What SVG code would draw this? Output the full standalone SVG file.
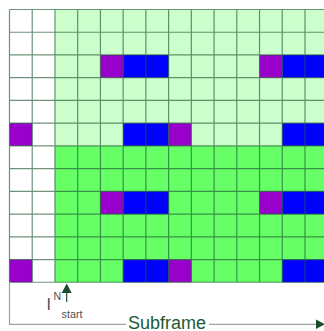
<svg xmlns="http://www.w3.org/2000/svg" width="324" height="331" viewBox="0 0 324 331">
<style>
.lg{fill:#ccffcc}
.g{fill:#66ff66}
.p{fill:#9900cc}
.b{fill:#0000ff}
.grid{fill:none;stroke:#1f5a33;stroke-opacity:0.65;stroke-width:1.2}
.ax{stroke:#a0a0a0;stroke-width:1.2;fill:none}
.ah{fill:#1a4d2e}
.lab{font-family:"Liberation Sans",Arial,sans-serif;fill:#505050}
.sub{font-family:"Liberation Sans",Arial,sans-serif;fill:#1e5a32;font-size:18px}
</style>
<rect width="324" height="331" fill="#ffffff"/>
<g id="cells">
<rect class="lg" x="54.96" y="9.5" width="272.76" height="136.38"/>
<rect class="g" x="54.96" y="145.88" width="272.76" height="136.38"/>
<rect class="p" x="100.42" y="54.96" width="22.73" height="22.73"/>
<rect class="b" x="123.15" y="54.96" width="45.46" height="22.73"/>
<rect class="p" x="259.53" y="54.96" width="22.73" height="22.73"/>
<rect class="b" x="282.26" y="54.96" width="45.46" height="22.73"/>
<rect class="p" x="9.5" y="123.15" width="22.73" height="22.73"/>
<rect class="b" x="123.15" y="123.15" width="45.46" height="22.73"/>
<rect class="p" x="168.61" y="123.15" width="22.73" height="22.73"/>
<rect class="b" x="282.26" y="123.15" width="45.46" height="22.73"/>
<rect class="p" x="100.42" y="191.34" width="22.73" height="22.73"/>
<rect class="b" x="123.15" y="191.34" width="45.46" height="22.73"/>
<rect class="p" x="259.53" y="191.34" width="22.73" height="22.73"/>
<rect class="b" x="282.26" y="191.34" width="45.46" height="22.73"/>
<rect class="p" x="9.5" y="259.53" width="22.73" height="22.73"/>
<rect class="b" x="123.15" y="259.53" width="45.46" height="22.73"/>
<rect class="p" x="168.61" y="259.53" width="22.73" height="22.73"/>
<rect class="b" x="282.26" y="259.53" width="45.46" height="22.73"/>
</g>
<g id="gridlines">
<path class="grid" d="M9.5 9.5V282.26M32.23 9.5V282.26M54.96 9.5V282.26M77.69 9.5V282.26M100.42 9.5V282.26M123.15 9.5V282.26M145.88 9.5V282.26M168.61 9.5V282.26M191.34 9.5V282.26M214.07 9.5V282.26M236.8 9.5V282.26M259.53 9.5V282.26M282.26 9.5V282.26M304.99 9.5V282.26
M9.5 9.5H328M9.5 32.23H328M9.5 54.96H328M9.5 77.69H328M9.5 100.42H328M9.5 123.15H328M9.5 145.88H328M9.5 168.61H328M9.5 191.34H328M9.5 214.07H328M9.5 236.8H328M9.5 259.53H328M9.5 282.26H328"/>
</g>
<g id="connectors">
<line class="ax" x1="9.5" y1="282.26" x2="9.5" y2="325"/>
<line class="ax" x1="9.5" y1="324.3" x2="126" y2="324.3"/>
<line class="ax" x1="209" y1="324.3" x2="317" y2="324.3"/>
<polygon class="ah" points="316,319.6 325,324.3 316,329"/>
<line x1="66.7" y1="292" x2="66.7" y2="302" stroke="#2a4a35" stroke-width="1.2"/>
<polygon class="ah" points="66.7,283.5 61.7,293 71.7,293"/>
</g>
<g id="labels">
<text class="lab" x="46.5" y="309.5" font-size="16">I</text>
<text class="lab" x="53.5" y="300" font-size="10.5">N</text>
<text class="lab" x="61.5" y="318" font-size="10.8">start</text>
<text class="sub" x="128" y="328.5">Subframe</text>
</g>
</svg>
